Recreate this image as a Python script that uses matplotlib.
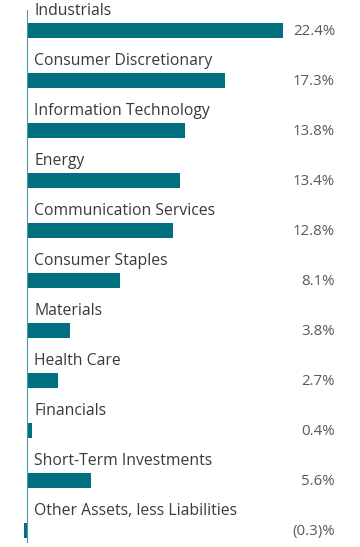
import matplotlib
matplotlib.use("Agg")
import matplotlib.pyplot as plt
from matplotlib.transforms import blended_transform_factory

categories = ["Industrials", "Consumer Discretionary", "Information Technology", "Energy",
              "Communication Services", "Consumer Staples", "Materials", "Health Care",
              "Financials", "Short-Term Investments", "Other Assets, less Liabilities"]
values = [22.4, 17.3, 13.8, 13.4, 12.8, 8.1, 3.8, 2.7, 0.4, 5.6, -0.3]
labels = ["22.4%", "17.3%", "13.8%", "13.4%", "12.8%", "8.1%", "3.8%", "2.7%", "0.4%", "5.6%", "(0.3)%"]

plt.rcParams['font.family'] = ['Open Sans', 'DejaVu Sans']

W, H = 360, 547
fig = plt.figure(figsize=(W/100, H/100), dpi=100)
top, bottom = 10, 543
zero_px = 27
ppu = 11.43
ax = fig.add_axes([0, 1 - bottom/H, 1, (bottom-top)/H])
ax.set_xlim(-zero_px/ppu, (W-zero_px)/ppu)
ax.set_ylim(10.26, -0.4)

bar_color = "#006F7F"
ys = list(range(len(categories)))
ax.barh(ys, values, height=0.3, color=bar_color, zorder=2)
ax.axvline(0, color='#4A9AA5', lw=0.8, zorder=3)

trans = blended_transform_factory(ax.transAxes, ax.transData)
lx = 34/W
vx = 335/W
for y, c, lab in zip(ys, categories, labels):
    ax.text(lx, y - 0.38, c, transform=trans, ha='left', va='center',
            fontsize=11.3, color='#3a3a3a', fontweight='medium')
    ax.text(vx, y + 0.03, lab, transform=trans, ha='right', va='center',
            fontsize=10.8, color='#595959')

for s in ax.spines.values():
    s.set_visible(False)
ax.set_xticks([])
ax.set_yticks([])
ax.patch.set_alpha(0)

fig.savefig("out.png", dpi=100)
